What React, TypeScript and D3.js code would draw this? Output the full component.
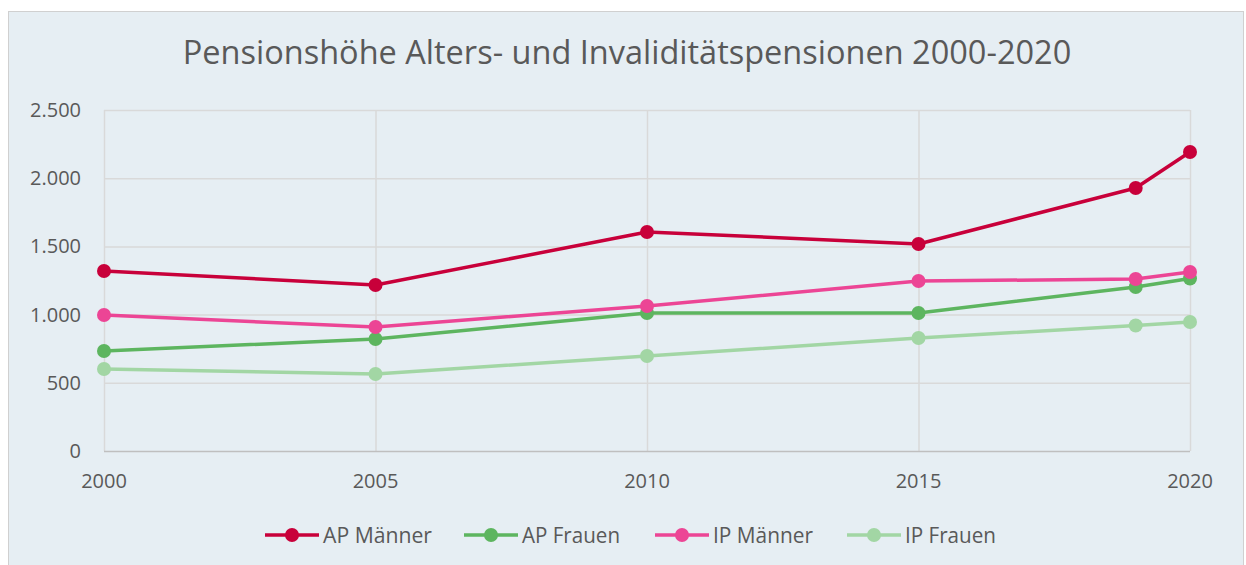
import React, { useEffect, useRef } from "react";
import * as d3 from "d3";

const years = [2000, 2005, 2010, 2015, 2019, 2020];
const apMaenner = [1320, 1217, 1606, 1518, 1928, 2192];
const apFrauen = [733, 821, 1012, 1012, 1202, 1265];
const ipMaenner = [997, 909, 1063, 1246, 1261, 1312];
const ipFrauen = [601, 565, 696, 828, 920, 946];
const xTicks = [2000, 2005, 2010, 2015, 2020];
const yTicks = [0, 500, 1000, 1500, 2000, 2500];

const series = [
  { name: "AP Männer", values: apMaenner, color: "#c8003a" },
  { name: "AP Frauen", values: apFrauen, color: "#5db55f" },
  { name: "IP Männer", values: ipMaenner, color: "#ec4595" },
  { name: "IP Frauen", values: ipFrauen, color: "#a2d6a4" },
];

const App = () => {
  const ref = useRef<SVGSVGElement>(null);

  useEffect(() => {
    const svg = d3.select(ref.current);
    svg.selectAll("*").remove();
    const font = "'Open Sans', 'Noto Sans', sans-serif";

    // background frame
    svg
      .append("rect")
      .attr("x", 8.5)
      .attr("y", 11.5)
      .attr("width", 1235)
      .attr("height", 570)
      .attr("fill", "#e6eef3")
      .attr("stroke", "#d0d0d0");

    svg
      .append("text")
      .attr("x", 627)
      .attr("y", 64)
      .attr("text-anchor", "middle")
      .attr("font-family", font)
      .attr("font-size", 32.5)
      .attr("fill", "#595959")
      .text("Pensionshöhe Alters- und Invaliditätspensionen 2000-2020");

    const x = d3.scaleLinear().domain([2000, 2020]).range([104, 1190]);
    const y = d3.scaleLinear().domain([0, 2500]).range([451, 110]);

    // grid
    svg
      .append("g")
      .selectAll("line")
      .data(yTicks.slice(1))
      .enter()
      .append("line")
      .attr("x1", x(2000))
      .attr("x2", x(2020))
      .attr("y1", (d) => y(d) + 0.5)
      .attr("y2", (d) => y(d) + 0.5)
      .attr("stroke", "#d9d9d9")
      .attr("stroke-width", 1.5);

    svg
      .append("g")
      .selectAll("line")
      .data(xTicks)
      .enter()
      .append("line")
      .attr("x1", (d) => x(d) + 0.5)
      .attr("x2", (d) => x(d) + 0.5)
      .attr("y1", y(2500))
      .attr("y2", y(0))
      .attr("stroke", "#d9d9d9")
      .attr("stroke-width", 1.5);

    // x axis baseline
    svg
      .append("line")
      .attr("x1", x(2000))
      .attr("x2", x(2020))
      .attr("y1", y(0) + 0.5)
      .attr("y2", y(0) + 0.5)
      .attr("stroke", "#bfbfbf")
      .attr("stroke-width", 1.5);

    const fmt = (v: number) => d3.format(",")(v).replace(/,/g, ".");

    svg
      .append("g")
      .selectAll("text")
      .data(yTicks)
      .enter()
      .append("text")
      .attr("x", 81)
      .attr("y", (d) => y(d) + 7)
      .attr("text-anchor", "end")
      .attr("font-family", font)
      .attr("font-size", 20)
      .attr("fill", "#595959")
      .text((d) => fmt(d));

    svg
      .append("g")
      .selectAll("text")
      .data(xTicks)
      .enter()
      .append("text")
      .attr("x", (d) => x(d))
      .attr("y", 488)
      .attr("text-anchor", "middle")
      .attr("font-family", font)
      .attr("font-size", 20)
      .attr("fill", "#595959")
      .text((d) => d);

    const line = d3
      .line<number>()
      .x((_, i) => x(years[i]))
      .y((d) => y(d));

    series.forEach((s) => {
      svg
        .append("path")
        .attr("d", line(s.values))
        .attr("fill", "none")
        .attr("stroke", s.color)
        .attr("stroke-width", 3.5)
        .attr("stroke-linejoin", "round");
      svg
        .append("g")
        .selectAll("circle")
        .data(s.values)
        .enter()
        .append("circle")
        .attr("cx", (_, i) => x(years[i]))
        .attr("cy", (d) => y(d))
        .attr("r", 7)
        .attr("fill", s.color);
    });

    // legend
    const legendX = [265, 464, 655, 847];
    const legendLen = [109, 98, 100, 91];
    series.forEach((s, i) => {
      const g = svg
        .append("g")
        .attr("transform", `translate(${legendX[i]}, 535)`);
      g.append("line")
        .attr("x1", 0)
        .attr("x2", 54)
        .attr("stroke", s.color)
        .attr("stroke-width", 3.5);
      g.append("circle").attr("cx", 27).attr("r", 7).attr("fill", s.color);
      g.append("text")
        .attr("x", 58)
        .attr("y", 7.5)
        .attr("font-family", font)
        .attr("font-size", 21.5)
        .attr("fill", "#595959")
        .attr("textLength", legendLen[i])
        .attr("lengthAdjust", "spacingAndGlyphs")
        .text(s.name);
    });
  }, []);

  return (
    <svg
      ref={ref}
      width={1246}
      height={565}
      style={{ position: "absolute", left: 0, top: 0 }}
    />
  );
};

export default App;
